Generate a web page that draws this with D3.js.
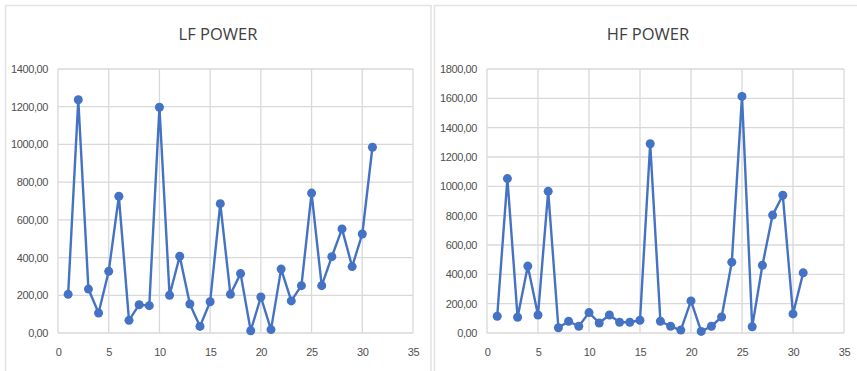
<!DOCTYPE html>
<html><head><meta charset="utf-8">
<script src="https://cdn.jsdelivr.net/npm/d3@7"></script>
<style>body{margin:0;background:#fff;} svg{display:block;}</style>
</head><body>
<svg id="c" width="857" height="371"></svg>
<script>
const xValues = d3.range(1, 32);
const lfValues = [205,1237,233,106,327,725,67,150,145,1197,200,407,154,35,166,686,205,315,12,191,18,339,170,251,742,251,405,552,352,525,985];
const hfValues = [114,1053,107,456,123,966,36,80,46,139,68,123,73,73,87,1290,80,46,20,219,11,46,109,483,1613,43,462,804,939,130,410];
const xTicks = [0,5,10,15,20,25,30,35];
const lfTicks = [0,200,400,600,800,1000,1200,1400];
const hfTicks = [0,200,400,600,800,1000,1200,1400,1600,1800];
const titles = ["LF POWER", "HF POWER"];

const svg = d3.select("#c");
const fmt = v => d3.format(".2f")(v).replace(".", ",");
const blue = "#4472C4", grid = "#d9d9d9", txt = "#505050";

// panel frames
svg.append("rect").attr("x",5.5).attr("y",5.5).attr("width",425.5).attr("height",380).attr("fill","none").attr("stroke","#e3e3e3").attr("stroke-width",1.5);
svg.append("rect").attr("x",434.5).attr("y",5.5).attr("width",440).attr("height",380).attr("fill","none").attr("stroke","#e3e3e3").attr("stroke-width",1.5);

function panel(left, right, values, ticks, title, titleX) {
  const top = 69, bottom = 333;
  const x = d3.scaleLinear().domain([0,35]).range([left,right]);
  const y = d3.scaleLinear().domain([0, ticks[ticks.length-1]]).range([bottom, top]);
  const g = svg.append("g");
  g.append("text").attr("x", titleX).attr("y", 40).attr("text-anchor","middle")
    .attr("font-family","Open Sans, Liberation Sans, sans-serif").attr("font-size",16.5).attr("fill","#404040").text(title);
  // grid
  g.selectAll(".hg").data(ticks).enter().append("line")
    .attr("x1",left).attr("x2",right).attr("y1",d=>y(d)).attr("y2",d=>y(d))
    .attr("stroke",grid).attr("stroke-width",1.3);
  g.selectAll(".vg").data(xTicks).enter().append("line")
    .attr("y1",top).attr("y2",bottom).attr("x1",d=>x(d)).attr("x2",d=>x(d))
    .attr("stroke",grid).attr("stroke-width",1.3);
  const ya = d3.axisLeft(y).tickValues(ticks).tickFormat(fmt).tickSize(0).tickPadding(10);
  const ag = g.append("g").attr("transform",`translate(${left},0)`).call(ya);
  const xa = d3.axisBottom(x).tickValues(xTicks).tickFormat(d3.format("d")).tickSize(0).tickPadding(15);
  const bg = g.append("g").attr("transform",`translate(0,${bottom})`).call(xa);
  [ag,bg].forEach(a=>{
    a.select(".domain").remove();
    a.selectAll("text").attr("font-family","Liberation Sans, Arial, sans-serif").attr("font-size",11).attr("letter-spacing","-0.4px").attr("fill",txt);
  });
  const line = d3.line().x((d,i)=>x(xValues[i])).y(d=>y(d));
  g.append("path").datum(values).attr("d",line).attr("fill","none").attr("stroke",blue).attr("stroke-width",2.4).attr("stroke-linejoin","round");
  g.selectAll(".pt").data(values).enter().append("circle")
    .attr("cx",(d,i)=>x(xValues[i])).attr("cy",d=>y(d)).attr("r",4.5).attr("fill",blue);
}
panel(58, 413, lfValues, lfTicks, titles[0], 218);
panel(487, 844, hfValues, hfTicks, titles[1], 648);
</script>
</body></html>
